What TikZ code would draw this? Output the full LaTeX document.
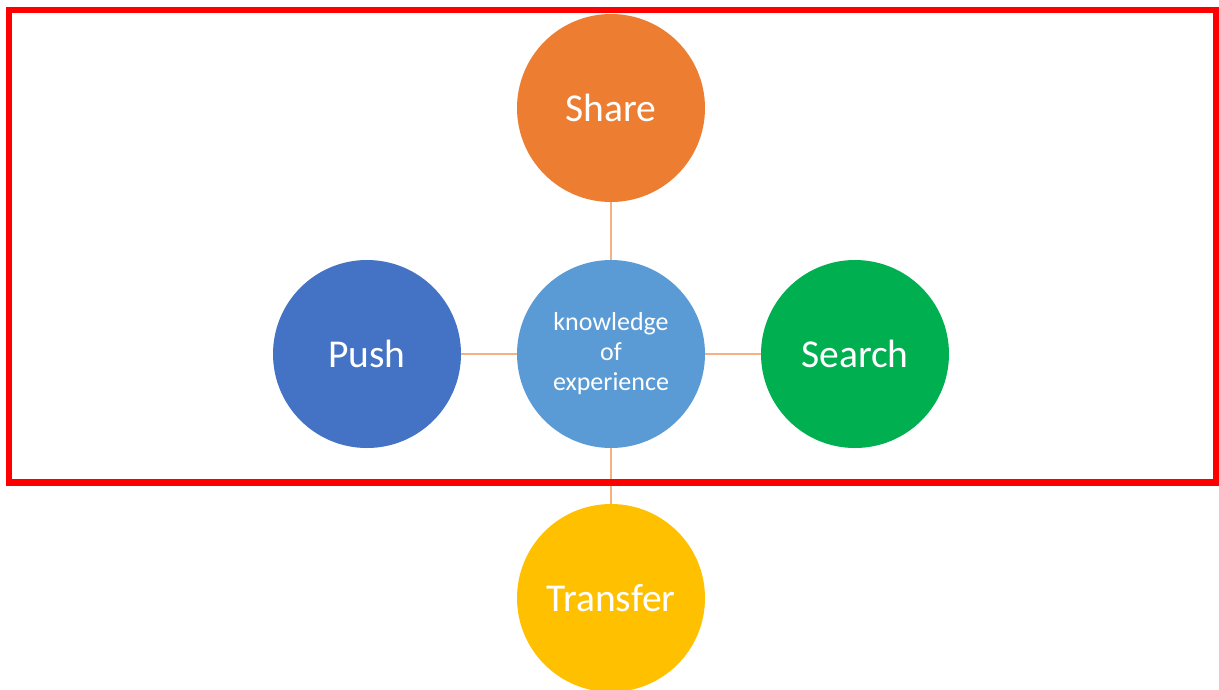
\documentclass[tikz,border=0pt]{standalone}
\usepackage{fontspec}
\setmainfont{Carlito}
\definecolor{cShare}{HTML}{ED7D31}
\definecolor{cPush}{HTML}{4472C4}
\definecolor{cCenter}{HTML}{5B9BD5}
\definecolor{cSearch}{HTML}{00B050}
\definecolor{cTransfer}{HTML}{FFC000}
\definecolor{cLink}{HTML}{F4B183}
\definecolor{cFrame}{HTML}{FF0000}
\begin{document}
\begin{tikzpicture}[x=1pt,y=-1pt,
  bubble/.style={circle,inner sep=0pt,minimum size=188pt,text=white,font=\fontsize{39.5}{42}\selectfont},
  link/.style={draw=cLink,line width=1.3pt}]
\useasboundingbox (0,0) rectangle (1219,689);
\node[bubble,fill=cShare] (share) at (611,108) {Share};
\node[bubble,fill=cPush] (push) at (367,354) {Push};
\node[bubble,fill=cCenter,align=center,font=\fontsize{26}{30}\selectfont] (center) at (611,354) {knowledge\\of\\experience};
\node[bubble,fill=cSearch] (search) at (855,354) {Search};
\node[bubble,fill=cTransfer] (transfer) at (611,598) {Transfer};
\draw[link] (share) -- (center);
\draw[link] (push) -- (center);
\draw[link] (center) -- (search);
\draw[link] (center) -- (transfer);
\draw[draw=cFrame,line width=6.5pt] (9,10) rectangle (1216,482.5);
\end{tikzpicture}
\end{document}
